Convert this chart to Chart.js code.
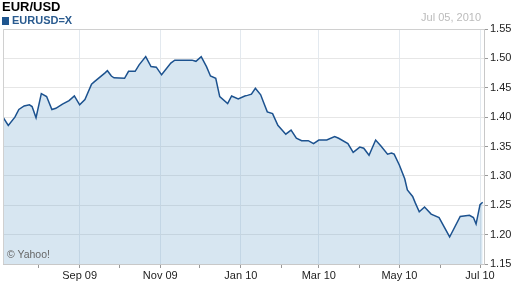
<!DOCTYPE html>
<html>
<head>
<meta charset="utf-8">
<script src="https://cdn.jsdelivr.net/npm/chart.js@4"></script>
<style>
  body { margin: 0; width: 512px; height: 288px; position: relative; overflow: hidden; background: #fff; font-family: "Liberation Sans", Arial, sans-serif; }
  #chart { position: absolute; left: 0; top: 0; }
  .txt { position: absolute; white-space: nowrap; }
  #title { left: 2px; top: -1px; font-size: 13px; font-weight: bold; color: #000; }
  #legend { left: 2px; top: 14px; font-size: 11px; font-weight: bold; color: #2a5b8f; }
  #legend span { display: inline-block; width: 7px; height: 8px; background: #1f568f; margin-right: 3px; vertical-align: -1px; }
  #date { right: 31px; top: 11px; font-size: 11px; color: #bbb; }
  #credit { left: 7px; top: 248px; font-size: 10.5px; color: #666; }
</style>
</head>
<body>
<canvas id="chart" width="512" height="288"></canvas>
<div class="txt" id="title">EUR/USD</div>
<div class="txt" id="legend"><span></span>EURUSD=X</div>
<div class="txt" id="date">Jul 05, 2010</div>
<div class="txt" id="credit">© Yahoo!</div>
<script>
// days counted from Jul 1, 2009
const days = [4, 8, 13, 16, 20, 24, 26, 29, 33, 37, 41, 44, 49, 54, 58, 62, 66, 71, 73, 81,
  83, 86, 88, 96, 99, 104, 107, 112, 116, 120, 124, 131, 134, 147, 150, 154, 158, 161, 165, 168,
  174, 177, 182, 187, 189, 192, 195, 199, 201, 204, 208, 212, 218, 222, 226, 230, 235, 239, 243, 249,
  255, 258, 265, 269, 274, 277, 281, 286, 290, 295, 298, 300, 304, 308, 310, 314, 316, 319, 323, 328,
  334, 342, 350, 357, 360, 362, 365, 367];
const rates = [1.400, 1.386, 1.400, 1.413, 1.419, 1.421, 1.418, 1.399, 1.440, 1.435, 1.413, 1.415, 1.422, 1.428, 1.436, 1.421, 1.430, 1.456, 1.460, 1.475,
  1.479, 1.470, 1.467, 1.466, 1.478, 1.478, 1.489, 1.503, 1.486, 1.485, 1.472, 1.492, 1.497, 1.497, 1.495, 1.503, 1.486, 1.470, 1.466, 1.435,
  1.423, 1.436, 1.431, 1.436, 1.437, 1.439, 1.449, 1.438, 1.426, 1.409, 1.406, 1.386, 1.371, 1.378, 1.364, 1.360, 1.360, 1.355, 1.361, 1.361,
  1.367, 1.364, 1.355, 1.340, 1.349, 1.347, 1.335, 1.361, 1.351, 1.337, 1.339, 1.337, 1.318, 1.295, 1.276, 1.265, 1.254, 1.239, 1.247, 1.235,
  1.229, 1.196, 1.231, 1.233, 1.229, 1.218, 1.251, 1.255];

const monthStarts = [31, 62, 92, 123, 153, 184, 215, 243, 274, 304, 335, 365];
const monthLabels = ['', 'Sep 09', '', 'Nov 09', '', 'Jan 10', '', 'Mar 10', '', 'May 10', '', 'Jul 10'];
const yTicks = [1.15, 1.20, 1.25, 1.30, 1.35, 1.40, 1.45, 1.50, 1.55];

const frame = {
  id: 'frame',
  afterDraw(chart) {
    const { ctx, chartArea: a } = chart;
    ctx.save();
    ctx.strokeStyle = '#d0d0d0';
    ctx.lineWidth = 1;
    ctx.beginPath();
    ctx.moveTo(a.left + 0.5, a.bottom);
    ctx.lineTo(a.left + 0.5, a.top + 0.5);
    ctx.lineTo(a.right, a.top + 0.5);
    ctx.stroke();
    ctx.restore();
  }
};

new Chart(document.getElementById('chart'), {
  type: 'line',
  data: {
    datasets: [{
      data: days.map((d, i) => ({ x: d, y: rates[i] })),
      borderColor: '#1c528f',
      borderWidth: 1.5,
      backgroundColor: 'rgba(110,165,205,0.28)',
      fill: 'start',
      pointRadius: 0,
      tension: 0
    }]
  },
  options: {
    responsive: false,
    animation: false,
    layout: { padding: { left: 3, top: 29, right: 0, bottom: 0 } },
    plugins: { legend: { display: false }, tooltip: { enabled: false } },
    scales: {
      x: {
        type: 'linear',
        min: 4,
        max: 368,
        afterBuildTicks: s => { s.ticks = monthStarts.map(v => ({ value: v })); },
        afterFit: s => { s.height = 24; },
        ticks: {
          autoSkip: false,
          maxRotation: 0,
          padding: 1,
          color: '#222',
          font: { family: 'Liberation Sans', size: 11 },
          callback: (v, i) => monthLabels[i]
        },
        grid: {
          color: c => monthLabels[c.index] ? '#e3e9ef' : 'transparent',
          tickColor: '#999',
          tickLength: 4
        },
        border: { color: '#c8c8c8' }
      },
      y: {
        position: 'right',
        min: 1.15,
        max: 1.55,
        afterBuildTicks: s => { s.ticks = yTicks.map(v => ({ value: v })); },
        afterFit: s => { s.width = 28; },
        ticks: {
          padding: 2,
          color: '#222',
          font: { family: 'Liberation Sans', size: 11 },
          callback: v => v.toFixed(2)
        },
        grid: {
          color: '#e6e6e6',
          tickColor: '#999',
          tickLength: 4
        },
        border: { color: '#c8c8c8' }
      }
    }
  },
  plugins: [frame]
});
</script>
</body>
</html>
